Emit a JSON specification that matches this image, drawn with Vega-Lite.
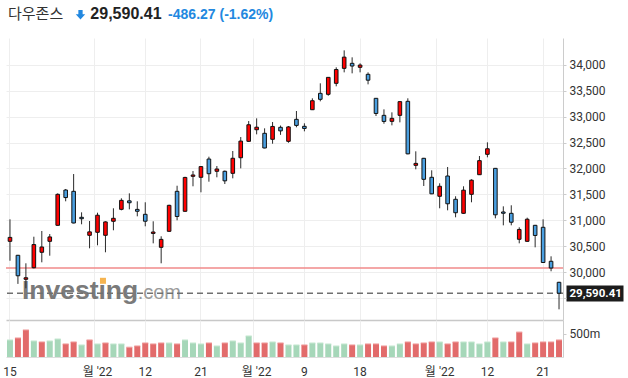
{
  "$schema": "https://vega.github.io/schema/vega-lite/v6.json",
  "padding": {"left": 2, "top": 6, "right": 0, "bottom": 0},
  "background": "white",
  "bounds": "flush",
  "spacing": 0,
  "config": {
    "view": {"stroke": null},
    "axis": {"labelFont": "Roboto, Noto Sans CJK KR, sans-serif", "labelFontSize": 12, "labelColor": "#333333", "gridColor": "#eeeeee", "gridWidth": 1, "domainColor": "#cccccc", "tickColor": "#cccccc"}
  },
  "datasets": {
    "ohlc": [
      {"d":"2022-06-15","o":30593,"h":31018,"l":30218,"c":30668.53,"v":370,"vd":"up"},
      {"d":"2022-06-16","o":30323,"h":30330,"l":29770,"c":29927.07,"v":413,"vd":"down"},
      {"d":"2022-06-17","o":29859,"h":30168,"l":29685,"c":29888.78,"v":587,"vd":"down"},
      {"d":"2022-06-21","o":30083,"h":30682,"l":30070,"c":30530.25,"v":348,"vd":"up"},
      {"d":"2022-06-22","o":30381,"h":30792,"l":30187,"c":30483.13,"v":326,"vd":"down"},
      {"d":"2022-06-23","o":30593,"h":30734,"l":30315,"c":30677.36,"v":348,"vd":"up"},
      {"d":"2022-06-24","o":30902,"h":31520,"l":30895,"c":31500.68,"v":391,"vd":"up"},
      {"d":"2022-06-27","o":31584,"h":31604,"l":31366,"c":31438.26,"v":283,"vd":"down"},
      {"d":"2022-06-28","o":31559,"h":31893,"l":30940,"c":30946.99,"v":326,"vd":"down"},
      {"d":"2022-06-29","o":31057,"h":31153,"l":30922,"c":31029.31,"v":261,"vd":"up"},
      {"d":"2022-06-30","o":30709,"h":30985,"l":30458,"c":30775.43,"v":370,"vd":"down"},
      {"d":"2022-07-01","o":30767,"h":31146,"l":30516,"c":31097.26,"v":283,"vd":"up"},
      {"d":"2022-07-05","o":30709,"h":30980,"l":30381,"c":30967.82,"v":304,"vd":"down"},
      {"d":"2022-07-06","o":30980,"h":31231,"l":30806,"c":31037.68,"v":283,"vd":"up"},
      {"d":"2022-07-07","o":31211,"h":31424,"l":31192,"c":31384.55,"v":283,"vd":"up"},
      {"d":"2022-07-08","o":31375,"h":31520,"l":31211,"c":31338.15,"v":210,"vd":"down"},
      {"d":"2022-07-11","o":31210,"h":31366,"l":31076,"c":31173.84,"v":239,"vd":"down"},
      {"d":"2022-07-12","o":31115,"h":31347,"l":30883,"c":30981.33,"v":304,"vd":"down"},
      {"d":"2022-07-13","o":30745,"h":30980,"l":30554,"c":30772.79,"v":283,"vd":"down"},
      {"d":"2022-07-14","o":30477,"h":30690,"l":30168,"c":30630.17,"v":304,"vd":"down"},
      {"d":"2022-07-15","o":30786,"h":31300,"l":30775,"c":31288.26,"v":304,"vd":"up"},
      {"d":"2022-07-18","o":31559,"h":31667,"l":30999,"c":31072.61,"v":283,"vd":"down"},
      {"d":"2022-07-19","o":31173,"h":31840,"l":31165,"c":31827.05,"v":370,"vd":"up"},
      {"d":"2022-07-20","o":31849,"h":31951,"l":31656,"c":31874.84,"v":304,"vd":"up"},
      {"d":"2022-07-21","o":31830,"h":32048,"l":31540,"c":32036.90,"v":283,"vd":"up"},
      {"d":"2022-07-22","o":32183,"h":32228,"l":31745,"c":31899.29,"v":304,"vd":"down"},
      {"d":"2022-07-25","o":31946,"h":32048,"l":31830,"c":31990.04,"v":239,"vd":"up"},
      {"d":"2022-07-26","o":31946,"h":31960,"l":31700,"c":31761.54,"v":304,"vd":"down"},
      {"d":"2022-07-27","o":31907,"h":32338,"l":31810,"c":32197.59,"v":348,"vd":"up"},
      {"d":"2022-07-28","o":32208,"h":32608,"l":32003,"c":32529.63,"v":304,"vd":"up"},
      {"d":"2022-07-29","o":32525,"h":32917,"l":32515,"c":32845.13,"v":457,"vd":"up"},
      {"d":"2022-08-01","o":32749,"h":32969,"l":32660,"c":32798.40,"v":304,"vd":"down"},
      {"d":"2022-08-02","o":32680,"h":32776,"l":32390,"c":32396.17,"v":304,"vd":"down"},
      {"d":"2022-08-03","o":32564,"h":32898,"l":32479,"c":32812.50,"v":326,"vd":"up"},
      {"d":"2022-08-04","o":32796,"h":32830,"l":32650,"c":32726.82,"v":304,"vd":"down"},
      {"d":"2022-08-05","o":32525,"h":32821,"l":32498,"c":32803.47,"v":261,"vd":"up"},
      {"d":"2022-08-08","o":32950,"h":33111,"l":32796,"c":32832.54,"v":261,"vd":"up"},
      {"d":"2022-08-09","o":32815,"h":32873,"l":32718,"c":32774.41,"v":261,"vd":"down"},
      {"d":"2022-08-10","o":33136,"h":33356,"l":33130,"c":33309.51,"v":304,"vd":"up"},
      {"d":"2022-08-11","o":33452,"h":33646,"l":33298,"c":33336.67,"v":304,"vd":"up"},
      {"d":"2022-08-12","o":33433,"h":33765,"l":33406,"c":33761.05,"v":283,"vd":"up"},
      {"d":"2022-08-15","o":33646,"h":33955,"l":33588,"c":33912.44,"v":239,"vd":"up"},
      {"d":"2022-08-16","o":33935,"h":34283,"l":33858,"c":34152.01,"v":283,"vd":"up"},
      {"d":"2022-08-17","o":34032,"h":34148,"l":33839,"c":33980.32,"v":261,"vd":"down"},
      {"d":"2022-08-18","o":33955,"h":34032,"l":33858,"c":33999.04,"v":261,"vd":"up"},
      {"d":"2022-08-19","o":33820,"h":33858,"l":33626,"c":33706.74,"v":283,"vd":"down"},
      {"d":"2022-08-22","o":33356,"h":33360,"l":33014,"c":33063.61,"v":283,"vd":"down"},
      {"d":"2022-08-23","o":33027,"h":33143,"l":32865,"c":32909.59,"v":239,"vd":"down"},
      {"d":"2022-08-24","o":32911,"h":33085,"l":32834,"c":32969.23,"v":239,"vd":"up"},
      {"d":"2022-08-25","o":33027,"h":33300,"l":32892,"c":33291.78,"v":283,"vd":"up"},
      {"d":"2022-08-26","o":33298,"h":33356,"l":32275,"c":32283.40,"v":326,"vd":"down"},
      {"d":"2022-08-29","o":32061,"h":32332,"l":31984,"c":32098.99,"v":283,"vd":"down"},
      {"d":"2022-08-30","o":32197,"h":32205,"l":31662,"c":31790.87,"v":304,"vd":"down"},
      {"d":"2022-08-31","o":31830,"h":31965,"l":31505,"c":31510.43,"v":326,"vd":"down"},
      {"d":"2022-09-01","o":31463,"h":31714,"l":31231,"c":31656.42,"v":326,"vd":"up"},
      {"d":"2022-09-02","o":31855,"h":32029,"l":31192,"c":31318.44,"v":283,"vd":"down"},
      {"d":"2022-09-06","o":31405,"h":31463,"l":31057,"c":31145.30,"v":326,"vd":"down"},
      {"d":"2022-09-07","o":31134,"h":31656,"l":31125,"c":31581.28,"v":326,"vd":"up"},
      {"d":"2022-09-08","o":31501,"h":31791,"l":31347,"c":31774.52,"v":326,"vd":"up"},
      {"d":"2022-09-09","o":31880,"h":32241,"l":31875,"c":32151.71,"v":283,"vd":"up"},
      {"d":"2022-09-12","o":32274,"h":32506,"l":32216,"c":32381.34,"v":326,"vd":"up"},
      {"d":"2022-09-13","o":32003,"h":32010,"l":31037,"c":31104.97,"v":413,"vd":"down"},
      {"d":"2022-09-14","o":31160,"h":31269,"l":30902,"c":31135.09,"v":326,"vd":"up"},
      {"d":"2022-09-15","o":31134,"h":31289,"l":30902,"c":30961.82,"v":326,"vd":"down"},
      {"d":"2022-09-16","o":30632,"h":30864,"l":30554,"c":30822.42,"v":540,"vd":"down"},
      {"d":"2022-09-19","o":30593,"h":31050,"l":30585,"c":31019.68,"v":283,"vd":"up"},
      {"d":"2022-09-20","o":30902,"h":30910,"l":30477,"c":30706.23,"v":304,"vd":"down"},
      {"d":"2022-09-21","o":30864,"h":31018,"l":30175,"c":30183.78,"v":326,"vd":"down"},
      {"d":"2022-09-22","o":30207,"h":30303,"l":30014,"c":30076.68,"v":326,"vd":"down"},
      {"d":"2022-09-23","o":29801,"h":29810,"l":29279,"c":29590.41,"v":370,"vd":"down"}
    ]
  },
  "vconcat": [
    {
      "width": 557,
      "height": 282,
      "data": {"name": "ohlc"},
      "resolve": {"axis": {"x": "independent", "y": "independent"}},
      "layer": [
        {
          "data": {"values": [{"p": 30076.68}]},
          "mark": {"type": "rule", "color": "#f08a8a", "strokeWidth": 1.5},
          "encoding": {"y": {"field": "p", "type": "quantitative", "axis": null}}
        },
        {
          "data": {"values": [{"t": "Investıng"}]},
          "mark": {"type": "text", "font": "Liberation Sans", "fontWeight": "bold", "fontSize": 26.5, "color": "#7a7a7a", "align": "left", "baseline": "alphabetic", "dx": -4},
          "encoding": {
            "x": {"datum": "2022-06-17", "type": "ordinal", "axis": null},
            "y": {"datum": 29484, "type": "quantitative", "axis": null},
            "text": {"field": "t"}
          }
        },
        {
          "data": {"values": [{"t": ".com"}]},
          "mark": {"type": "text", "font": "Liberation Sans", "fontSize": 20, "color": "#9a9a9a", "align": "left", "baseline": "alphabetic", "dx": 0.4},
          "encoding": {
            "x": {"datum": "2022-07-11", "type": "ordinal", "axis": null},
            "y": {"datum": 29484, "type": "quantitative", "axis": null},
            "text": {"field": "t"}
          }
        },
        {
          "data": {"values": [{"t": "dot"}]},
          "mark": {"type": "point", "shape": "square", "filled": true, "size": 36, "color": "#f6b450", "opacity": 1, "xOffset": -2.5},
          "encoding": {
            "x": {"datum": "2022-07-05", "type": "ordinal", "axis": null},
            "y": {"datum": 29830, "type": "quantitative", "axis": null}
          }
        },
        {
          "data": {"values": [{"p": 29590.41}]},
          "mark": {"type": "rule", "color": "#707070", "strokeWidth": 1.5, "strokeDash": [6, 4]},
          "encoding": {
            "y": {"field": "p", "type": "quantitative",
              "axis": {"orient": "right", "values": [29590.41], "format": ",.2f", "grid": false, "domain": false, "offset": 3, "ticks": true, "tickSize": 57, "tickWidth": 16, "tickColor": "#1c1c1c", "labelColor": "#ffffff", "labelFontWeight": "bold", "labelPadding": -54, "labelFontSize": 11.5, "labelOverlap": false, "labelFlush": false, "title": null}}
          }
        },
        {
          "data": {"values": [{"t": "다우존스"}]},
          "mark": {"type": "text", "font": "Noto Sans CJK KR", "fontSize": 15, "color": "#333333", "align": "left", "baseline": "alphabetic", "dx": -2},
          "encoding": {
            "x": {"datum": "2022-06-15", "type": "ordinal", "axis": null},
            "y": {"datum": 34880, "type": "quantitative", "axis": null},
            "text": {"field": "t"}
          }
        },
        {
          "data": {"values": [{"t": "down"}]},
          "mark": {"type": "point", "shape": "M-0.45,-1L0.45,-1L0.45,-0.1L1,-0.1L0,1L-1,-0.1L-0.45,-0.1Z", "filled": true, "size": 90, "color": "#2288e0", "opacity": 1, "xOffset": -1.1},
          "encoding": {
            "x": {"datum": "2022-06-29", "type": "ordinal", "axis": null},
            "y": {"datum": 34970, "type": "quantitative", "axis": null}
          }
        },
        {
          "data": {"values": [{"t": "29,590.41"}]},
          "mark": {"type": "text", "font": "Liberation Sans", "fontWeight": "bold", "fontSize": 16, "color": "#222222", "align": "left", "baseline": "alphabetic", "dx": 0.8},
          "encoding": {
            "x": {"datum": "2022-06-30", "type": "ordinal", "axis": null},
            "y": {"datum": 34880, "type": "quantitative", "axis": null},
            "text": {"field": "t"}
          }
        },
        {
          "data": {"values": [{"t": "-486.27  (-1.62%)"}]},
          "mark": {"type": "text", "font": "Liberation Sans", "fontWeight": "bold", "fontSize": 14, "color": "#2288e0", "align": "left", "baseline": "alphabetic", "dx": -1},
          "encoding": {
            "x": {"datum": "2022-07-15", "type": "ordinal", "axis": null},
            "y": {"datum": 34880, "type": "quantitative", "axis": null},
            "text": {"field": "t"}
          }
        },
        {
          "mark": {"type": "rule", "color": "#2a2a2a", "strokeWidth": 1},
          "encoding": {
            "x": {"field": "d", "type": "ordinal",
              "scale": {"paddingInner": 0.25, "paddingOuter": 0.125},
              "axis": {"orient": "bottom", "values": ["2022-06-15","2022-07-12","2022-07-21","2022-08-09","2022-08-18","2022-09-12","2022-09-21"], "bandPosition": 0.5, "grid": true, "labels": false, "ticks": false, "domain": true, "domainColor": "#c8c8c8", "domainWidth": 1.5, "title": null}},
            "y": {"field": "l", "type": "quantitative",
              "scale": {"domain": [29072.5, 34521.7], "nice": false, "zero": false},
              "axis": {"orient": "right", "values": [29500,30000,30500,31000,31500,32000,32500,33000,33500,34000], "labelExpr": "datum.value < 30000 ? '' : format(datum.value, ',')", "grid": true, "domain": true, "ticks": true, "tickSize": 3, "labelPadding": 3, "title": null}},
            "y2": {"field": "h"}
          }
        },
        {
          "mark": {"type": "bar", "width": 3.6, "stroke": "#111111", "strokeWidth": 1},
          "encoding": {
            "x": {"field": "d", "type": "ordinal",
              "axis": {"orient": "bottom", "values": ["2022-07-01","2022-08-01","2022-09-01"], "bandPosition": 0, "grid": true, "labels": false, "ticks": false, "domain": false, "title": null}},
            "y": {"field": "o", "type": "quantitative", "axis": null},
            "y2": {"field": "c"},
            "fill": {"condition": {"test": "datum.c >= datum.o", "value": "#ff0000"}, "value": "#4a9fe0"}
          }
        }
      ]
    },
    {
      "width": 557,
      "height": 37,
      "data": {"name": "ohlc"},
      "resolve": {"axis": {"x": "independent", "y": "independent"}},
      "layer": [
        {
          "mark": {"type": "bar"},
          "encoding": {
            "x": {"field": "d", "type": "ordinal",
              "scale": {"paddingInner": 0.25, "paddingOuter": 0.125},
              "axis": {"orient": "bottom", "values": ["2022-06-15","2022-07-12","2022-07-21","2022-08-09","2022-08-18","2022-09-12","2022-09-21"], "bandPosition": 0.5, "grid": true, "labels": true, "labelExpr": "toNumber(slice(datum.value, 8))", "labelAngle": 0, "labelPadding": 9, "labelOverlap": false, "ticks": false, "domain": true, "domainColor": "#dddddd", "title": null}},
            "y": {"field": "v", "type": "quantitative",
              "scale": {"domain": [0, 804], "nice": false},
              "axis": {"orient": "right", "values": [500], "labelExpr": "'500m'", "grid": false, "domain": true, "ticks": true, "tickSize": 3, "labelPadding": 3, "title": null}},
            "color": {"condition": {"test": "datum.vd == 'up'", "value": "#a6d7b9"}, "value": "#e26b6b"}
          }
        },
        {
          "mark": {"type": "tick", "orient": "horizontal", "thickness": 1.5, "size": 6},
          "encoding": {
            "x": {"field": "d", "type": "ordinal",
              "axis": {"orient": "bottom", "values": ["2022-07-01","2022-08-01","2022-09-01"], "bandPosition": 0, "grid": true, "labels": true, "labelExpr": "\"월 '22\"", "labelAngle": 0, "labelPadding": 9, "labelOverlap": false, "ticks": false, "domain": false, "title": null}},
            "y": {"field": "v", "type": "quantitative", "axis": null},
            "color": {"condition": {"test": "datum.vd == 'up'", "value": "#c6e8d2"}, "value": "#ef9a9a"}
          }
        }
      ]
    }
  ]
}
